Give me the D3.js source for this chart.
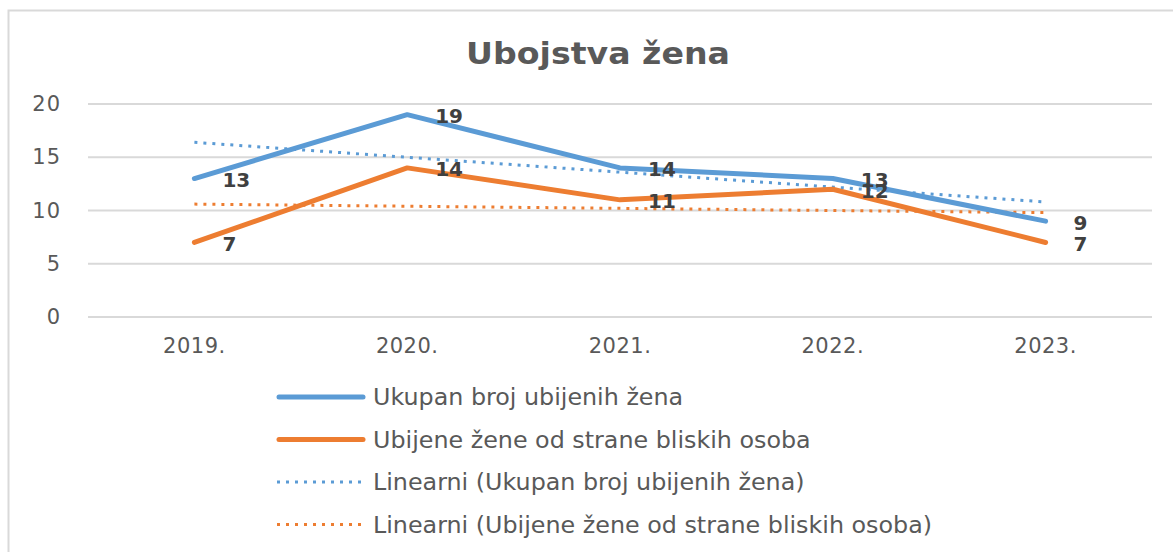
<!DOCTYPE html>
<html><head><meta charset="utf-8">
<script src="https://cdn.jsdelivr.net/npm/d3@7"></script>
<style>body{margin:0;background:#fff;overflow:hidden}</style>
</head><body>
<svg id="c" width="1173" height="552"></svg>
<script>
const categories = ["2019.", "2020.", "2021.", "2022.", "2023."];
const totalKilled = [13, 19, 14, 13, 9];
const partnerKilled = [7, 14, 11, 12, 7];
const totalTrend = [16.4, 10.8];    // linear trend at first and last year
const partnerTrend = [10.6, 9.8];
const yTicks = [0, 5, 10, 15, 20];
const title = "Ubojstva žena";
const legendLabels = ["Ukupan broj ubijenih žena", "Ubijene žene od strane bliskih osoba",
  "Linearni (Ukupan broj ubijenih žena)", "Linearni (Ubijene žene od strane bliskih osoba)"];

const blue = "#5B9BD5", orange = "#ED7D31";
const font = "DejaVu Sans";
const svg = d3.select("#c");
svg.append("rect").attr("x", 8.5).attr("y", 10.5).attr("width", 1200).attr("height", 600)
  .attr("fill", "#fff").attr("stroke", "#d9d9d9").attr("stroke-width", 2);

svg.append("text").attr("x", 598).attr("y", 64).attr("text-anchor", "middle")
  .attr("font-family", font).attr("font-weight", "bold").attr("font-size", 31)
  .attr("textLength", 264).attr("lengthAdjust", "spacingAndGlyphs")
  .attr("fill", "#595959").text(title);

const x = d3.scaleBand().domain(categories).range([88, 1152]);
const y = d3.scaleLinear().domain([0, 20]).range([317, 104]);
const cx = c => x(c) + x.bandwidth() / 2;

const g = svg.append("g");
g.selectAll("line.grid").data(yTicks).join("line").attr("class", "grid")
  .attr("x1", 88).attr("x2", 1152).attr("y1", d => y(d)).attr("y2", d => y(d))
  .attr("stroke", "#d9d9d9").attr("stroke-width", 2);

const yAxis = g.append("g").attr("transform", "translate(88,0)")
  .call(d3.axisLeft(y).tickValues(yTicks).tickSize(0).tickPadding(27));
yAxis.select(".domain").remove();
yAxis.selectAll("text").attr("font-family", font).attr("font-size", 21)
  .attr("letter-spacing", 1).attr("fill", "#595959");

const xAxis = g.append("g").attr("transform", "translate(0,317)")
  .call(d3.axisBottom(x).tickSize(0).tickPadding(21));
xAxis.select(".domain").remove();
xAxis.selectAll("text").attr("font-family", font).attr("font-size", 21)
  .attr("letter-spacing", 0.5).attr("fill", "#595959");

const line = d3.line().x((d, i) => cx(categories[i])).y(d => y(d));
function trend(v) {
  return g.append("line").attr("x1", cx(categories[0])).attr("x2", cx(categories[categories.length - 1]))
    .attr("y1", y(v[0])).attr("y2", y(v[1]));
}
trend(totalTrend).attr("stroke", blue).attr("stroke-width", 3).attr("stroke-dasharray", "3 6");
trend(partnerTrend).attr("stroke", orange).attr("stroke-width", 3).attr("stroke-dasharray", "3 6");

g.append("path").datum(totalKilled).attr("d", line).attr("fill", "none")
  .attr("stroke", blue).attr("stroke-width", 5).attr("stroke-linecap", "round").attr("stroke-linejoin", "round");
g.append("path").datum(partnerKilled).attr("d", line).attr("fill", "none")
  .attr("stroke", orange).attr("stroke-width", 5).attr("stroke-linecap", "round").attr("stroke-linejoin", "round");

function labels(data) {
  g.append("g").selectAll("text").data(data).join("text")
    .attr("x", (d, i) => cx(categories[i]) + 28).attr("y", d => y(d) + 8.5)
    .attr("font-family", font).attr("font-weight", "bold").attr("font-size", 20)
    .attr("fill", "#404040").text(d => d);
}
labels(totalKilled);
labels(partnerKilled);

const leg = svg.append("g");
const legStyles = [
  {c: blue, w: 5, dash: null}, {c: orange, w: 5, dash: null},
  {c: blue, w: 3, dash: "3 6"}, {c: orange, w: 3, dash: "3 6"}];
const legY = [397, 439.5, 482, 524.5];
legendLabels.forEach((t, i) => {
  const s = legStyles[i];
  const l = leg.append("line").attr("x1", s.dash ? 277 : 279).attr("x2", s.dash ? 365 : 363)
    .attr("y1", legY[i]).attr("y2", legY[i])
    .attr("stroke", s.c).attr("stroke-width", s.w);
  if (s.dash) l.attr("stroke-dasharray", s.dash); else l.attr("stroke-linecap", "round");
  leg.append("text").attr("x", 373).attr("y", legY[i] + 8).attr("font-family", font)
    .attr("font-size", 23.8).attr("fill", "#595959").text(t);
});
</script>
</body></html>
